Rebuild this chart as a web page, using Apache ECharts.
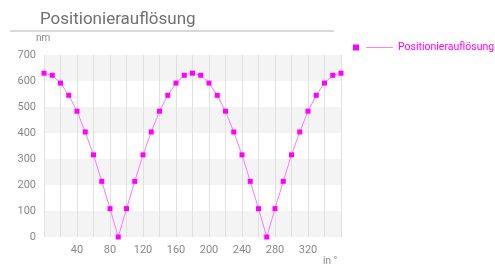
<!DOCTYPE html>
<html>
<head>
<meta charset="utf-8">
<script src="https://cdn.jsdelivr.net/npm/echarts@6/dist/echarts.min.js"></script>
<style>
  html, body { margin: 0; padding: 0; background: #fff; }
  #chart { width: 495px; height: 266px; }
</style>
</head>
<body>
<div id="chart"></div>
<script>
// Data (angle in degrees, resolution in nm)
const angles = [0, 10, 20, 30, 40, 50, 60, 70, 80, 90, 100, 110, 120, 130, 140, 150, 160, 170, 180,
                190, 200, 210, 220, 230, 240, 250, 260, 270, 280, 290, 300, 310, 320, 330, 340, 350, 360];
const resolution = [630, 622, 592, 545, 484, 404, 316, 214, 109, 0, 109, 214, 316, 404, 484, 545, 592, 622, 630,
                    622, 592, 545, 484, 404, 316, 214, 109, 0, 109, 214, 316, 404, 484, 545, 592, 622, 630];
const xTicks = [40, 80, 120, 160, 200, 240, 280, 320];

const seriesName = 'Positionierauflösung';
const magenta = '#ff00ff';
const points = angles.map((a, i) => [a, resolution[i]]);

const chart = echarts.init(document.getElementById('chart'));
chart.setOption({
    animation: false,
    textStyle: { fontFamily: 'Roboto' },
    title: {
        text: 'Positionierauflösung',
        left: 35, top: 6,
        textStyle: { fontSize: 17, fontWeight: 'normal', color: '#707070', fontFamily: 'Roboto' }
    },
    graphic: [
        { type: 'line', shape: { x1: 10, y1: 31, x2: 334, y2: 31 }, style: { stroke: '#cccccc', lineWidth: 1.5 } },
        { type: 'text', left: 36, top: 33, style: { text: 'nm', fontSize: 10, fill: '#888', fontFamily: 'Roboto' } },
        { type: 'text', left: 323, top: 256, style: { text: 'in °', fontSize: 10, fill: '#888', fontFamily: 'Roboto' } }
    ],
    legend: {
        left: 348, top: 37, right: 0,
        itemWidth: 40, itemHeight: 6,
        icon: 'path://M0,0H6V6H0Z M13,2.7H40V3.3H13Z',
        textStyle: { color: magenta, fontSize: 10.5, fontFamily: 'Roboto' },
        data: [seriesName]
    },
    grid: { left: 44, right: 154, top: 55, bottom: 29 },
    xAxis: {
        type: 'value', min: 0, max: 360, interval: 20,
        axisLine: { show: false }, axisTick: { show: false },
        axisLabel: {
            color: '#888', fontSize: 11, margin: 8,
            formatter: v => xTicks.includes(v) ? String(v) : ''
        },
        splitLine: { show: true, lineStyle: { color: '#e0e0e0', width: 1 } }
    },
    yAxis: {
        type: 'value', min: 0, max: 700, interval: 100,
        axisLine: { show: false }, axisTick: { show: false },
        axisLabel: { color: '#888', fontSize: 11, margin: 8 },
        splitLine: { show: false },
        splitArea: { show: true, areaStyle: { color: ['#f4f4f4', '#ffffff'] } }
    },
    series: [{
        name: seriesName,
        type: 'line',
        data: points,
        symbol: 'rect', symbolSize: 5,
        itemStyle: { color: magenta },
        lineStyle: { color: '#ff77ff', width: 1 }
    }]
});
</script>
</body>
</html>
